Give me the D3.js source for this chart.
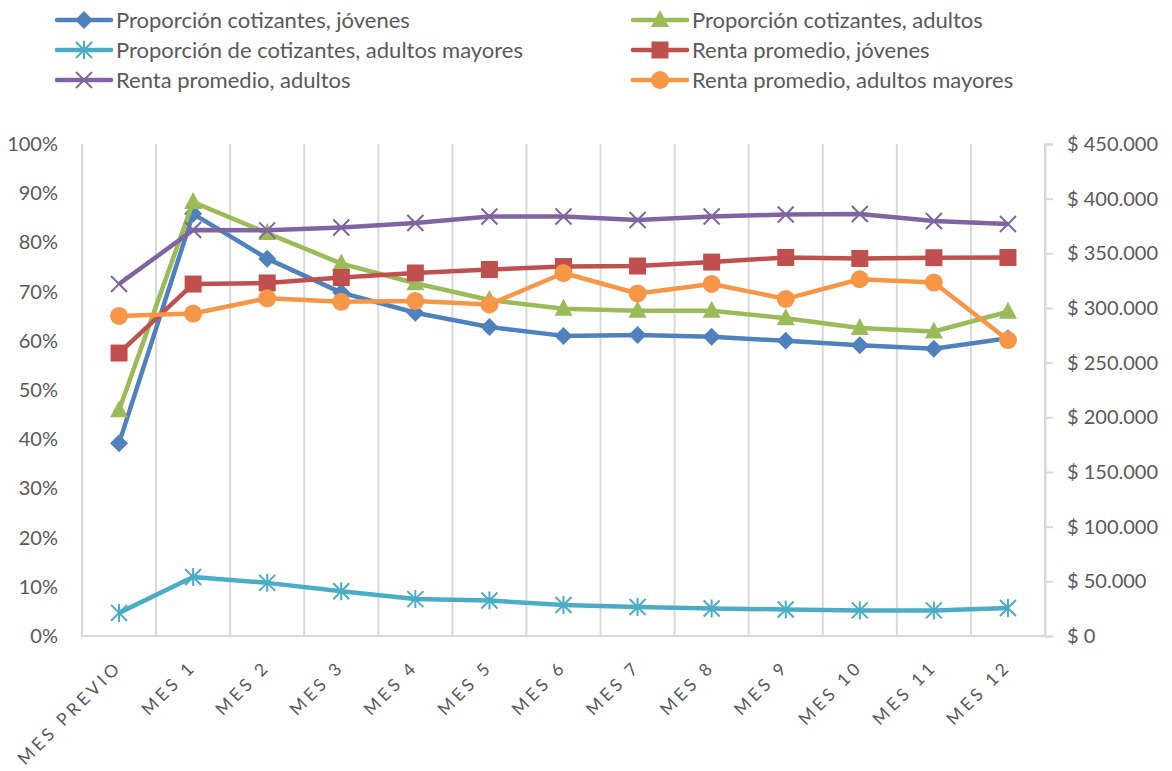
<!DOCTYPE html>
<html>
<head>
<meta charset="utf-8">
<style>
  body { margin: 0; background: #fff; }
  text { font-family: Lato, "Open Sans", sans-serif; fill: #595959; }
</style>
</head>
<body>
<svg id="chart" width="1172" height="771"></svg>
<script src="https://cdn.jsdelivr.net/npm/d3@7"></script>
<script>
// categories (x axis)
var months = ["MES PREVIO", "MES 1", "MES 2", "MES 3", "MES 4", "MES 5", "MES 6",
              "MES 7", "MES 8", "MES 9", "MES 10", "MES 11", "MES 12"];

// left axis series (proportions)
var propJovenes  = [0.392, 0.858, 0.767, 0.698, 0.657, 0.628, 0.610, 0.612, 0.608, 0.600, 0.591, 0.584, 0.605];
var propAdultos  = [0.459, 0.882, 0.819, 0.757, 0.717, 0.683, 0.665, 0.661, 0.661, 0.646, 0.626, 0.619, 0.659];
var propMayores  = [0.047, 0.120, 0.108, 0.091, 0.075, 0.072, 0.063, 0.059, 0.056, 0.054, 0.052, 0.052, 0.057];

// right axis series (average income)
var rentaJovenes = [258800, 321900, 322900, 327900, 332000, 335200, 337900, 338400, 342000, 346200, 345300, 346000, 346200];
var rentaAdultos = [321900, 371300, 371000, 373700, 377700, 383700, 383700, 380500, 383700, 385500, 386000, 379600, 376800];
var rentaMayores = [292700, 294900, 308900, 305700, 306500, 303200, 332000, 313300, 322000, 308300, 326300, 323300, 270700];

var leftTicks  = [0, 0.1, 0.2, 0.3, 0.4, 0.5, 0.6, 0.7, 0.8, 0.9, 1.0];
var rightTicks = [0, 50000, 100000, 150000, 200000, 250000, 300000, 350000, 400000, 450000];

var series = [
  { name: "Proporción cotizantes, jóvenes", values: propJovenes, axis: "left", color: "#4F81BD", marker: "diamond", col: 0, row: 0 },
  { name: "Proporción cotizantes, adultos", values: propAdultos, axis: "left", color: "#9BBB59", marker: "triangle", col: 1, row: 0 },
  { name: "Proporción de cotizantes, adultos mayores", values: propMayores, axis: "left", color: "#4BACC6", marker: "star", col: 0, row: 1 },
  { name: "Renta promedio, jóvenes", values: rentaJovenes, axis: "right", color: "#C0504D", marker: "square", col: 1, row: 1 },
  { name: "Renta promedio, adultos", values: rentaAdultos, axis: "right", color: "#8064A2", marker: "x", col: 0, row: 2 },
  { name: "Renta promedio, adultos mayores", values: rentaMayores, axis: "right", color: "#F79646", marker: "circle", col: 1, row: 2 }
];

var svg = d3.select("#chart");
var plot = { left: 82, right: 1045, top: 144, bottom: 636 };

var x = d3.scaleBand().domain(months).range([plot.left, plot.right]);
var yL = d3.scaleLinear().domain([0, 1]).range([plot.bottom, plot.top]);
var yR = d3.scaleLinear().domain([0, 450000]).range([plot.bottom, plot.top]);

var locale = d3.formatLocale({ decimal: ",", thousands: ".", grouping: [3], currency: ["$ ", ""] });
var fmtMoney = locale.format("$,.0f");
var fmtPct = d3.format(".0%");

// vertical gridlines at category boundaries
var bounds = months.map(function(m) { return x(m); }).concat([plot.right]);
svg.append("g").selectAll("line").data(bounds).join("line")
  .attr("x1", function(d) { return d; }).attr("x2", function(d) { return d; })
  .attr("y1", plot.top).attr("y2", plot.bottom)
  .attr("stroke", "#D9D9D9").attr("stroke-width", 2);

// bottom axis line
svg.append("line")
  .attr("x1", plot.left - 1).attr("x2", plot.right + 1)
  .attr("y1", plot.bottom).attr("y2", plot.bottom)
  .attr("stroke", "#D9D9D9").attr("stroke-width", 2);

// left axis labels
var gl = svg.append("g").attr("transform", "translate(" + plot.left + ",0)")
  .call(d3.axisLeft(yL).tickValues(leftTicks).tickFormat(fmtPct).tickSize(0).tickPadding(24));
gl.select(".domain").remove();
gl.selectAll("text").style("font-size", "20px").attr("fill", "#595959").style("font-family", "Lato");

// right axis
var gr = svg.append("g").attr("transform", "translate(" + plot.right + ",0)")
  .call(d3.axisRight(yR).tickValues(rightTicks).tickFormat(fmtMoney).tickSize(8).tickPadding(14));
gr.select(".domain").attr("stroke", "#D9D9D9").attr("stroke-width", 2);
gr.selectAll(".tick line").attr("stroke", "#D9D9D9").attr("stroke-width", 2);
gr.selectAll("text").style("font-size", "20px").attr("fill", "#595959").style("font-family", "Lato").attr("text-anchor", "start");

// bottom category labels, rotated
var gx = svg.append("g").attr("transform", "translate(0," + plot.bottom + ")")
  .call(d3.axisBottom(x).tickSize(0).tickPadding(0));
gx.select(".domain").remove();
gx.selectAll("text")
  .style("font-size", "17.5px").style("font-family", "Lato").style("letter-spacing", "3.6px")
  .attr("fill", "#595959")
  .attr("text-anchor", "end")
  .attr("dy", "0")
  .attr("transform", "translate(4,32) rotate(-45)");

// markers
function drawMarker(g, type, color, cx, cy) {
  if (type === "diamond") {
    g.append("path").attr("d", "M0,-9L9,0L0,9L-9,0Z").attr("transform", "translate(" + cx + "," + cy + ")").attr("fill", color);
  } else if (type === "triangle") {
    g.append("path").attr("d", "M0,-10L9,7L-9,7Z").attr("transform", "translate(" + cx + "," + cy + ")").attr("fill", color);
  } else if (type === "square") {
    g.append("rect").attr("x", cx - 8.5).attr("y", cy - 8.5).attr("width", 17).attr("height", 17).attr("fill", color);
  } else if (type === "circle") {
    g.append("circle").attr("cx", cx).attr("cy", cy).attr("r", 9).attr("fill", color);
  } else if (type === "x") {
    g.append("path").attr("d", "M-8,-8L8,8M8,-8L-8,8").attr("transform", "translate(" + cx + "," + cy + ")")
      .attr("stroke", color).attr("stroke-width", 2).attr("fill", "none");
  } else if (type === "star") {
    g.append("path").attr("d", "M-8,-8L8,8M8,-8L-8,8M0,-9L0,9").attr("transform", "translate(" + cx + "," + cy + ")")
      .attr("stroke", color).attr("stroke-width", 2).attr("fill", "none");
  }
}

var cx = function(i) { return x(months[i]) + x.bandwidth() / 2; };

series.forEach(function(s) {
  var y = s.axis === "left" ? yL : yR;
  var line = d3.line().x(function(d, i) { return cx(i); }).y(function(d) { return y(d); });
  var g = svg.append("g");
  g.append("path").datum(s.values).attr("d", line)
    .attr("fill", "none").attr("stroke", s.color).attr("stroke-width", 4.5).attr("stroke-linejoin", "round");
  s.values.forEach(function(v, i) { drawMarker(g, s.marker, s.color, cx(i), y(v)); });
});

// legend
var legendX = [57, 633], legendY = [20, 50, 80];
series.forEach(function(s) {
  var lx = legendX[s.col], ly = legendY[s.row];
  var g = svg.append("g");
  g.append("line").attr("x1", lx).attr("x2", lx + 54).attr("y1", ly).attr("y2", ly)
    .attr("stroke", s.color).attr("stroke-width", 4.5).attr("stroke-linecap", "round");
  drawMarker(g, s.marker, s.color, lx + 27, ly);
  g.append("text").attr("x", lx + 59).attr("y", ly).attr("dy", "0.35em")
    .style("font-size", "22px").text(s.name);
});
</script>
</body>
</html>
